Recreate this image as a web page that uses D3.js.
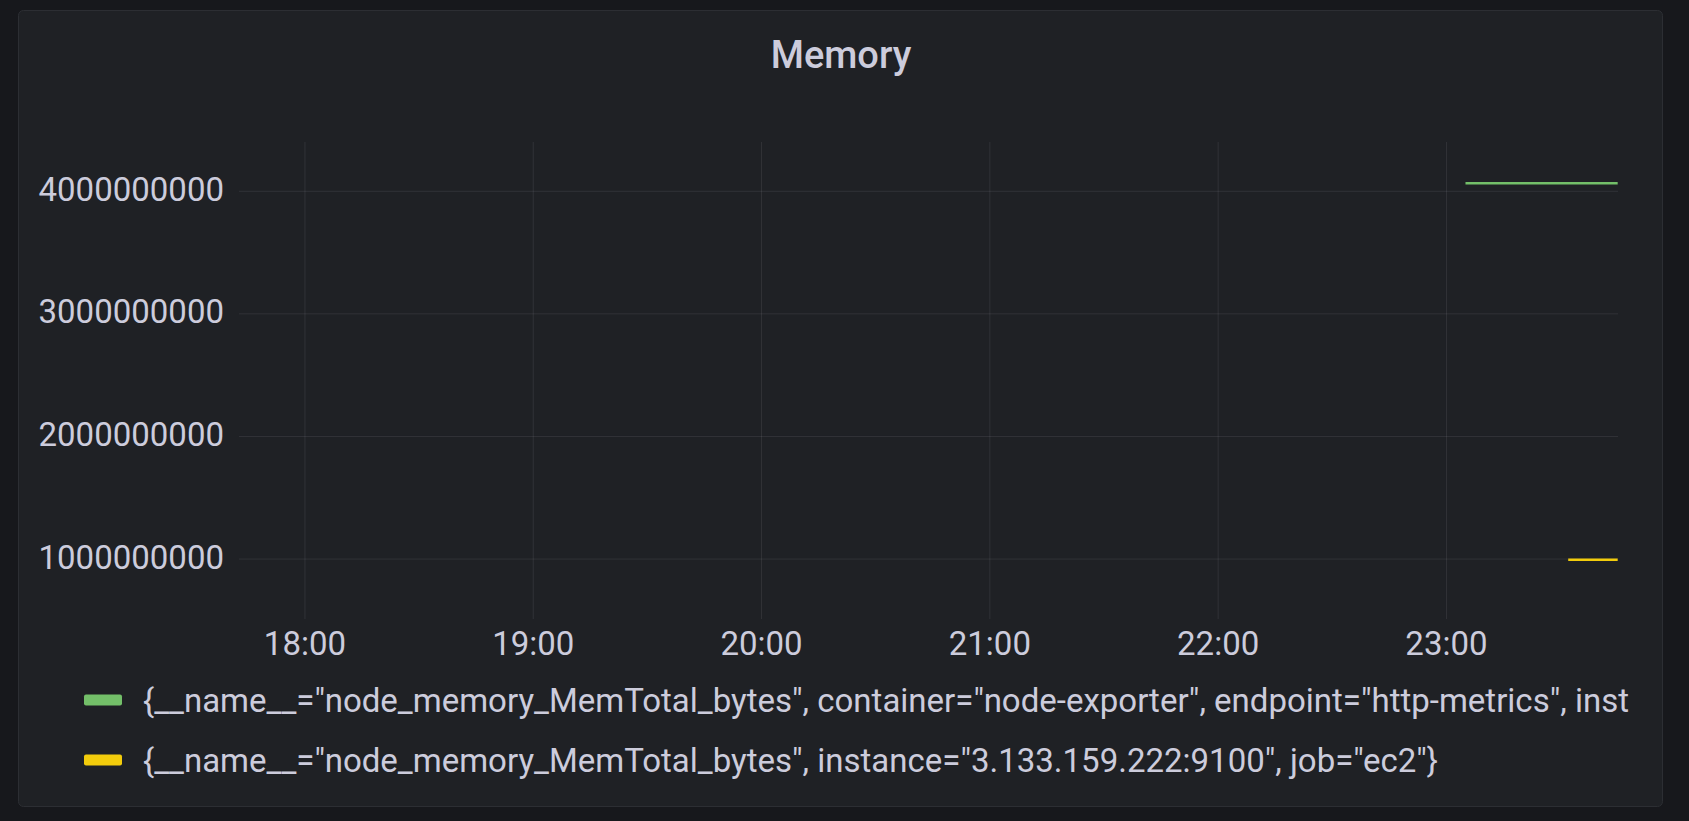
<!DOCTYPE html>
<html><head><meta charset="utf-8">
<script src="https://cdn.jsdelivr.net/npm/d3@7"></script>
<style>
html,body{margin:0;padding:0;background:#17181c;overflow:hidden;}
svg{display:block;}
</style></head>
<body>
<svg id="c" width="1689" height="821"></svg>
<script>
const title = "Memory";
const yTicks = [1000000000, 2000000000, 3000000000, 4000000000];
const xTickHours = ["18:00","19:00","20:00","21:00","22:00","23:00"];
const seriesNames = [
  '{__name__="node_memory_MemTotal_bytes", container="node-exporter", endpoint="http-metrics", instance="10.0.1.5:9100", job="node-exporter"}',
  '{__name__="node_memory_MemTotal_bytes", instance="3.133.159.222:9100", job="ec2"}'
];
const seriesColors = ["#73bf69", "#f2cc0c"];
const greenTimes = ["23:05","23:15","23:25","23:35","23:45"];
const greenValues = [4065000000, 4065000000, 4065000000, 4065000000, 4065000000];
const yellowTimes = ["23:32","23:38","23:45"];
const yellowValues = [995000000, 995000000, 995000000];
const domainStart = "17:42:40", domainEnd = "23:45:05";

const parse = s => { const p = s.split(":").map(Number); return new Date(2024,0,1,p[0],p[1],p[2]||0); };

const svg = d3.select("#c");
const FS = 33;
// panel
svg.append("rect").attr("x",18.5).attr("y",10.5).attr("width",1644).attr("height",796)
  .attr("rx",5).attr("fill","#1f2125").attr("stroke","#2c2e33").attr("stroke-width",1);

svg.append("text").attr("x",841).attr("y",68).attr("text-anchor","middle")
  .attr("font-family","Roboto").attr("font-weight",500).attr("font-size",38)
  .attr("fill","#ccccdc").text(title);

const x = d3.scaleTime().domain([parse(domainStart), parse(domainEnd)]).range([239, 1618]);
const y = d3.scaleLinear().domain([511000000, 4402000000]).range([619, 142]);

const g = svg.append("g");
g.selectAll("line.h").data(yTicks).join("line")
  .attr("x1",239).attr("x2",1618).attr("y1",d=>y(d)).attr("y2",d=>y(d))
  .attr("stroke","#ccccdc").attr("stroke-opacity",0.1).attr("stroke-width",1);
g.selectAll("line.v").data(xTickHours).join("line")
  .attr("x1",d=>x(parse(d))).attr("x2",d=>x(parse(d))).attr("y1",142).attr("y2",619)
  .attr("stroke","#ccccdc").attr("stroke-opacity",0.1).attr("stroke-width",1);

g.selectAll("text.yl").data(yTicks).join("text")
  .attr("x",224).attr("y",d=>y(d)-1).attr("dy","0.32em").attr("text-anchor","end")
  .attr("font-family","Roboto").attr("font-size",FS).attr("fill","#ccccdc")
  .text(d=>d3.format("d")(d));
g.selectAll("text.xl").data(xTickHours).join("text")
  .attr("x",d=>x(parse(d))).attr("y",655).attr("text-anchor","middle")
  .attr("font-family","Roboto").attr("font-size",FS).attr("fill","#ccccdc")
  .text(d=>d);

const line = d3.line().x(d=>x(parse(d[0]))).y(d=>y(d[1]));
const series = [
  greenTimes.map((t,i)=>[t,greenValues[i]]),
  yellowTimes.map((t,i)=>[t,yellowValues[i]])
];
series.forEach((s,i)=>{
  svg.append("path").datum(s).attr("d",line).attr("fill","none")
    .attr("stroke",seriesColors[i]).attr("stroke-width",2.5);
});

// legend (text trimmed to fit the panel, as in the reference)
const lg = svg.append("g");
seriesNames.forEach((n,i)=>{
  const yy = 700 + i*60;
  lg.append("rect").attr("x",84).attr("y",yy-5.5).attr("width",38).attr("height",11).attr("rx",2)
    .attr("fill",seriesColors[i]);
  const t = lg.append("text").attr("x",143).attr("y",yy+11.5).attr("font-family","Roboto").attr("font-size",FS)
    .attr("fill","#ccccdc").text(n);
  let s = n;
  while (t.node().getComputedTextLength() > 1640 - 143 && s.length > 1) {
    s = s.slice(0, -1); t.text(s);
  }
});
</script>
</body></html>
